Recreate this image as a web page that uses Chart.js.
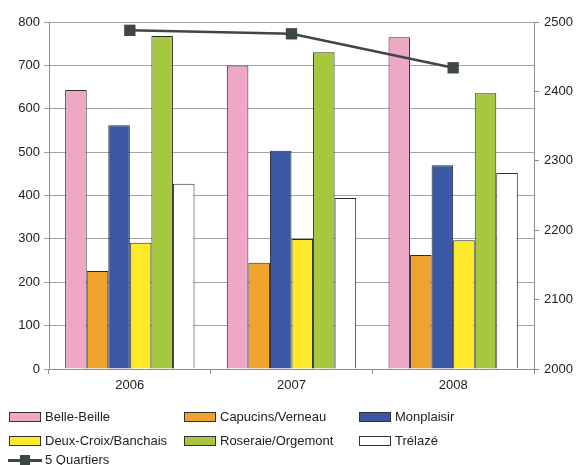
<!DOCTYPE html>
<html>
<head>
<meta charset="utf-8">
<script src="https://cdn.jsdelivr.net/npm/chart.js@4"></script>
<style>
  body { margin: 0; background: #fff; font-family: "Liberation Sans", Arial, sans-serif; }
  #wrap { position: relative; width: 578px; height: 465px; overflow: hidden; }
  #legende { position: absolute; left: 0; top: 0; width: 578px; height: 465px; pointer-events: none; }
  .item { position: absolute; font-size: 13px; color: #222; line-height: 15px; white-space: nowrap; }
  .boite { position: absolute; width: 30px; height: 8px; border: 1px solid #333; }
</style>
</head>
<body>
<div id="wrap">
  <canvas id="grafico" width="578" height="400"></canvas>
  <div id="legende"></div>
</div>
<script>
// Données
const annees = ['2006', '2007', '2008'];
const quartiers = ['Belle-Beille', 'Capucins/Verneau', 'Monplaisir', 'Deux-Croix/Banchais', 'Roseraie/Orgemont', 'Trélazé'];
const belleBeille = [643, 700, 765];
const capucins = [226, 245, 263];
const monplaisir = [562, 503, 470];
const deuxCroix = [291, 300, 297];
const roseraie = [768, 730, 636];
const trelaze = [427, 394, 452];
const cinqQuartiers = [2488, 2483, 2434];
const ticksGauche = [0, 100, 200, 300, 400, 500, 600, 700, 800];
const ticksDroite = [2000, 2100, 2200, 2300, 2400, 2500];

const couleurs = ['#eea8c6', '#efa22d', '#3b58a5', '#fde82a', '#a6c73f', '#ffffff'];
const series = [belleBeille, capucins, monplaisir, deuxCroix, roseraie, trelaze];

const datasetsBarres = series.map((s, i) => ({
    type: 'bar',
    label: quartiers[i],
    data: s,
    backgroundColor: couleurs[i],
    borderColor: '#2b2b2b',
    borderWidth: 1,
    yAxisID: 'y',
    categoryPercentage: 0.8,
    barPercentage: 1.0,
    order: 2
}));

const police = { family: '"Liberation Sans", Arial, sans-serif', size: 13 };

new Chart(document.getElementById('grafico'), {
    data: {
        labels: annees,
        datasets: [
            {
                type: 'line',
                label: '5 Quartiers',
                data: cinqQuartiers,
                borderColor: '#3e4646',
                backgroundColor: '#3e4646',
                borderWidth: 2.5,
                pointStyle: 'rect',
                pointRadius: 8,
                pointBorderWidth: 0,
                yAxisID: 'y1',
                order: 1
            },
            ...datasetsBarres
        ]
    },
    options: {
        responsive: false,
        animation: false,
        layout: { padding: { top: 22, left: 0, right: 0, bottom: 0 } },
        plugins: { legend: { display: false }, tooltip: { enabled: false } },
        scales: {
            x: {
                grid: { offset: true, drawOnChartArea: false, drawTicks: true, tickLength: 5, color: '#8c8c8c' },
                border: { color: '#8c8c8c' },
                ticks: { color: '#222', font: police, padding: 4 },
                afterFit: s => { s.height = 31; }
            },
            y: {
                position: 'left',
                min: 0, max: 800,
                afterBuildTicks: s => { s.ticks = ticksGauche.map(v => ({ value: v })); },
                grid: { color: '#a3a3a3', tickLength: 5 },
                border: { color: '#8c8c8c' },
                ticks: { color: '#222', font: police, padding: 4, callback: v => String(v) },
                afterFit: s => { s.width = 49; }
            },
            y1: {
                position: 'right',
                min: 2000, max: 2500,
                afterBuildTicks: s => { s.ticks = ticksDroite.map(v => ({ value: v })); },
                grid: { drawOnChartArea: false, tickLength: 5, color: '#8c8c8c' },
                border: { color: '#8c8c8c' },
                ticks: { color: '#222', font: police, padding: 5, callback: v => String(v) },
                afterFit: s => { s.width = 44; }
            }
        }
    }
});

// Légende en trois colonnes
const leg = document.getElementById('legende');
const colX = [9, 184, 359];
const rangY = [409, 433];
quartiers.forEach((nom, i) => {
    const x = colX[i % 3], y = rangY[Math.floor(i / 3)];
    const b = document.createElement('div');
    b.className = 'boite';
    b.style.left = x + 'px';
    b.style.top = (y + 3) + 'px';
    b.style.background = couleurs[i];
    leg.appendChild(b);
    const t = document.createElement('div');
    t.className = 'item';
    t.style.left = (x + 36) + 'px';
    t.style.top = y + 'px';
    t.textContent = nom;
    leg.appendChild(t);
});
// entrée de la courbe
const trait = document.createElement('div');
trait.style.cssText = 'position:absolute;left:8px;top:459px;width:34px;height:3px;background:#3e4646';
leg.appendChild(trait);
const carre = document.createElement('div');
carre.style.cssText = 'position:absolute;left:20px;top:455px;width:10px;height:10px;background:#3e4646';
leg.appendChild(carre);
const t5 = document.createElement('div');
t5.className = 'item';
t5.style.left = '45px';
t5.style.top = '452px';
t5.textContent = '5 Quartiers';
leg.appendChild(t5);
</script>
</body>
</html>
